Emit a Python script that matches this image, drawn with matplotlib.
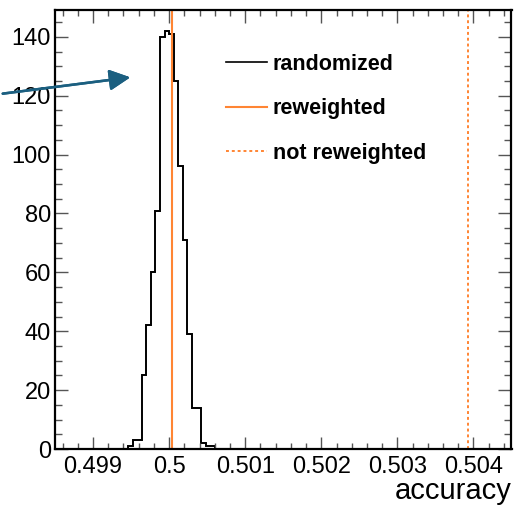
import matplotlib
matplotlib.use('Agg')
import matplotlib.pyplot as plt
from matplotlib.lines import Line2D
import numpy as np

plt.rcParams['font.family'] = ['Liberation Sans', 'DejaVu Sans']

# histogram: 100 bins in [0.4985, 0.5045], only bins 16..34 are filled
hist_lo = 0.4985
hist_hi = 0.5045
n_bins = 100
first_bin = 16
counts = [1, 3, 3, 25, 42, 60, 81, 140, 142, 141, 125, 96, 71, 39, 14, 14, 2, 1, 1]

acc_reweighted = 0.50004
acc_not_reweighted = 0.50393

labels = ['randomized', 'reweighted', 'not reweighted']
orange = '#ff8533'
arrow_col = '#1b5f80'

width = (hist_hi - hist_lo) / n_bins
edges = hist_lo + width * np.arange(first_bin, first_bin + len(counts) + 1)

fig = plt.figure(figsize=(5.14, 5.05), dpi=100)
ax = fig.add_axes([55 / 514, 1 - 449 / 505, (511.5 - 55) / 514, (449 - 10) / 505])

ax.stairs(counts, edges, baseline=0, color='black', lw=1.4)
ax.axvline(acc_reweighted, color=orange, lw=1.5)
ax.axvline(acc_not_reweighted, color=orange, lw=1.4, ls=(0, (1.5, 1.5)))

ax.set_xlim(hist_lo, hist_hi)
ax.set_ylim(0, 1.05 * max(counts))
ax.set_xticks(np.arange(0.499, 0.5045, 0.001))
ax.set_xticklabels(['0.499', '0.5', '0.501', '0.502', '0.503', '0.504'])
ax.set_xticks(np.arange(0.4986, 0.5045, 0.0002), minor=True)
ax.set_yticks(np.arange(0, 141, 20))
ax.set_yticks(np.arange(0, 149, 5), minor=True)

ax.tick_params(which='both', direction='in', top=True, right=True,
               labelsize=17, width=1.0, color='#555555')
ax.tick_params(axis='y', which='major', length=9.5, pad=3)
ax.tick_params(axis='y', which='minor', length=5)
ax.tick_params(axis='x', which='major', length=9, pad=5)
ax.tick_params(axis='x', which='minor', length=4.5)
for s in ax.spines.values():
    s.set_linewidth(1.6)

ax.set_xlabel('accuracy', fontsize=21, loc='right', labelpad=-1)

handles = [Line2D([], [], color='black', lw=1.2),
           Line2D([], [], color=orange, lw=1.5),
           Line2D([], [], color=orange, lw=1.4, ls=(0, (1.5, 1.5)))]
leg = ax.legend(handles, labels, loc='upper left', bbox_to_anchor=(0.333, 0.945),
                frameon=False, prop={'weight': 'bold', 'size': 15.5},
                handlelength=1.9, handletextpad=0.25, labelspacing=1.1)

# arrow coming in from outside the frame
fig.add_artist(plt.annotate('', xy=(133 / 514, 1 - 77 / 505), xycoords='figure fraction',
                            xytext=(0.0, 1 - 94 / 505), textcoords='figure fraction',
                            arrowprops=dict(arrowstyle='-|>,head_length=0.9,head_width=0.45',
                                            mutation_scale=14, color=arrow_col, lw=1.8)))

fig.savefig('out.png', dpi=100)
